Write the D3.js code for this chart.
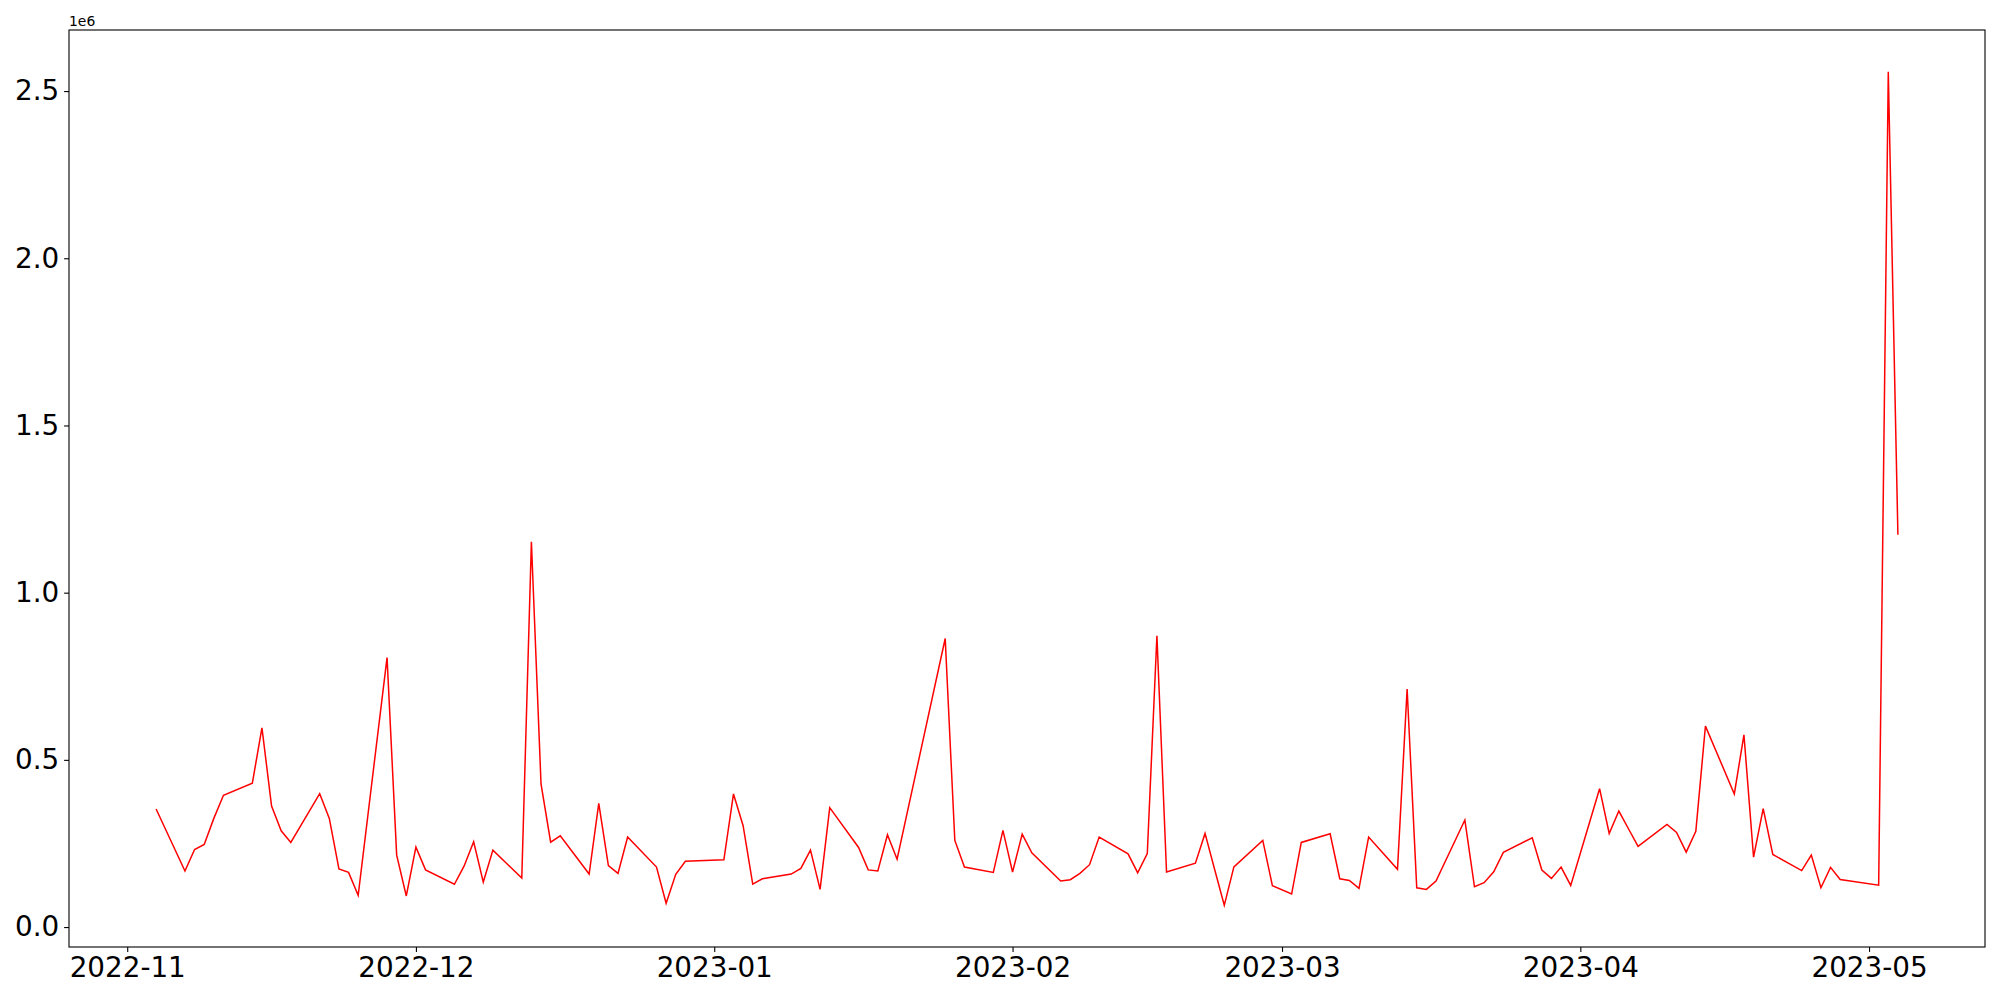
<!DOCTYPE html>
<html>
<head>
<meta charset="utf-8">
<script src="https://cdn.jsdelivr.net/npm/d3@7"></script>
<style>
  body { margin: 0; background: #fff; }
  svg { display: block; font-family: "DejaVu Sans", sans-serif; }
</style>
</head>
<body>
<svg id="chart" width="2000" height="1000"></svg>
<script>
// trading days (weekdays, market holidays skipped)
const dates = [
  "2022-11-04","2022-11-07","2022-11-08","2022-11-09","2022-11-10","2022-11-11",
  "2022-11-14","2022-11-15","2022-11-16","2022-11-17","2022-11-18",
  "2022-11-21","2022-11-22","2022-11-23","2022-11-24","2022-11-25",
  "2022-11-28","2022-11-29","2022-11-30","2022-12-01","2022-12-02",
  "2022-12-05","2022-12-06","2022-12-07","2022-12-08","2022-12-09",
  "2022-12-12","2022-12-13","2022-12-14","2022-12-15","2022-12-16",
  "2022-12-19","2022-12-20","2022-12-21","2022-12-22","2022-12-23",
  "2022-12-26","2022-12-27","2022-12-28","2022-12-29",
  "2023-01-02","2023-01-03","2023-01-04","2023-01-05","2023-01-06",
  "2023-01-09","2023-01-10","2023-01-11","2023-01-12","2023-01-13",
  "2023-01-16","2023-01-17","2023-01-18","2023-01-19","2023-01-20",
  "2023-01-25","2023-01-26","2023-01-27",
  "2023-01-30","2023-01-31","2023-02-01","2023-02-02","2023-02-03",
  "2023-02-06","2023-02-07","2023-02-08","2023-02-09","2023-02-10",
  "2023-02-13","2023-02-14","2023-02-15","2023-02-16","2023-02-17",
  "2023-02-20","2023-02-21","2023-02-22","2023-02-23","2023-02-24",
  "2023-02-27","2023-02-28","2023-03-02","2023-03-03",
  "2023-03-06","2023-03-07","2023-03-08","2023-03-09","2023-03-10",
  "2023-03-13","2023-03-14","2023-03-15","2023-03-16","2023-03-17",
  "2023-03-20","2023-03-21","2023-03-22","2023-03-23","2023-03-24",
  "2023-03-27","2023-03-28","2023-03-29","2023-03-30","2023-03-31",
  "2023-04-03","2023-04-04","2023-04-05","2023-04-06","2023-04-07",
  "2023-04-10","2023-04-11","2023-04-12","2023-04-13","2023-04-14",
  "2023-04-17","2023-04-18","2023-04-19","2023-04-20","2023-04-21",
  "2023-04-24","2023-04-25","2023-04-26","2023-04-27","2023-04-28",
  "2023-05-02","2023-05-03","2023-05-04"
];

const values = [
  353000, 167500, 232000, 247000, 325000, 394000,
  430000, 596000, 362000, 288000, 253000,
  399000, 325000, 174000, 163500, 95000,
  806000, 215000, 93000, 239000, 171000,
  128000, 182000, 255000, 134500, 230000,
  146500, 1152000, 428000, 254000, 273000,
  158500, 370000, 183500, 160500, 269000,
  179500, 71000, 157500, 196500,
  201300, 398000, 303000, 128500, 144500,
  158500, 175500, 230000, 112700, 357000,
  238000, 171000, 167500, 276000, 203000,
  863000, 259000, 179500,
  163500, 289000, 164500, 278000, 222000,
  137500, 141500, 160500, 186500, 269000,
  219000, 162500, 220000, 871000, 164500,
  191000, 280000, 172000, 65000, 180000,
  259000, 123500, 98700, 253000,
  279000, 144500, 139500, 115500, 269000,
  172500, 712000, 117500, 112700, 137500,
  320000, 120500, 132500, 165500, 223300,
  267000, 170500, 145500, 179500, 124500,
  413700, 280000, 347000, 294000, 241000,
  307000, 283000, 224000, 286000, 601000,
  398000, 575000, 209000, 354000, 217000,
  169000, 215000, 117500, 178500, 142300,
  125300, 2558000, 1173000
];

const yTicks = [0, 500000, 1000000, 1500000, 2000000, 2500000];
const yTickLabels = ["0.0", "0.5", "1.0", "1.5", "2.0", "2.5"];
const offsetLabel = "1e6";

const W = 2000, H = 1000;
const margin = { top: 30, right: 15, bottom: 53, left: 69 };
const fontPx = 27.8;

const parse = d3.utcParse("%Y-%m-%d");
const data = dates.map((d, i) => ({ date: parse(d), value: values[i] }));

const svg = d3.select("#chart");

// matplotlib style 5% padding on both axes
const [t0, t1] = d3.extent(data, d => d.date);
const tPad = (t1 - t0) * 0.05;
const x = d3.scaleUtc()
  .domain([new Date(+t0 - tPad), new Date(+t1 + tPad)])
  .range([margin.left, W - margin.right]);

const [v0, v1] = d3.extent(data, d => d.value);
const vPad = (v1 - v0) * 0.05;
const y = d3.scaleLinear()
  .domain([v0 - vPad, v1 + vPad])
  .range([H - margin.bottom, margin.top]);

const line = d3.line()
  .x(d => x(d.date))
  .y(d => y(d.value));

svg.append("rect").attr("width", W).attr("height", H).attr("fill", "#fff");

svg.append("path")
  .datum(data)
  .attr("fill", "none")
  .attr("stroke", "#ff0000")
  .attr("stroke-width", 1.5)
  .attr("stroke-linejoin", "miter")
  .attr("d", line);

// x axis
const xAxis = d3.axisBottom(x)
  .ticks(d3.utcMonth.every(1))
  .tickFormat(d3.utcFormat("%Y-%m"))
  .tickSize(4.9)
  .tickPadding(4.9);

const gx = svg.append("g")
  .attr("transform", `translate(0,${H - margin.bottom})`)
  .call(xAxis);

// y axis
const yAxis = d3.axisLeft(y)
  .tickValues(yTicks)
  .tickFormat((d, i) => yTickLabels[i])
  .tickSize(4.9)
  .tickPadding(4.9);

const gy = svg.append("g")
  .attr("transform", `translate(${margin.left},0)`)
  .call(yAxis);

[gx, gy].forEach(g => {
  g.select(".domain").remove();
  g.selectAll(".tick line").attr("stroke", "#000").attr("stroke-width", 1.1);
  g.selectAll(".tick text")
    .attr("fill", "#000")
    .style("font-family", "DejaVu Sans")
    .style("font-size", fontPx + "px");
});

// frame
svg.append("rect")
  .attr("x", margin.left)
  .attr("y", margin.top)
  .attr("width", W - margin.left - margin.right)
  .attr("height", H - margin.top - margin.bottom)
  .attr("fill", "none")
  .attr("stroke", "#000")
  .attr("stroke-width", 1.1);

// offset text
svg.append("text")
  .attr("x", margin.left)
  .attr("y", margin.top - 4)
  .style("font-size", "13.9px")
  .attr("fill", "#000")
  .text(offsetLabel);
</script>
</body>
</html>
